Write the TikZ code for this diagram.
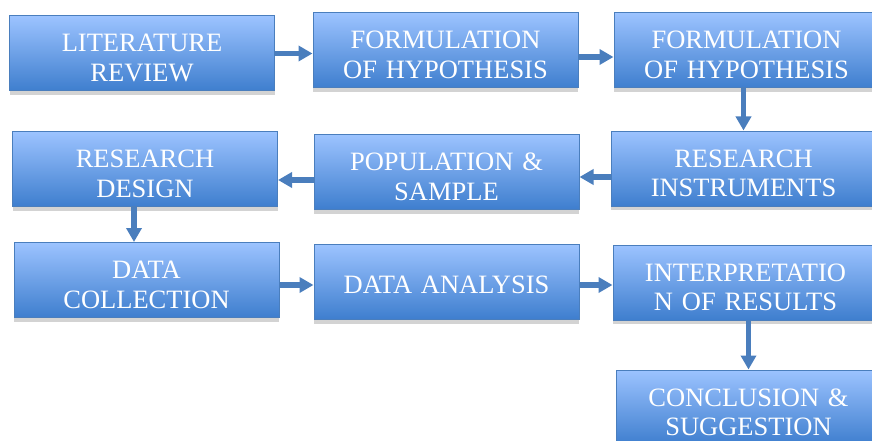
\documentclass[tikz,border=0pt]{standalone}
\usepackage{fontspec}
\setmainfont{Liberation Serif}
\usetikzlibrary{arrows.meta, shadows}
\definecolor{lightA}{RGB}{156, 195, 255}
\definecolor{darkA} {RGB}{62,  126, 206}
\definecolor{edgeA} {RGB}{74,  126, 189}

\begin{document}
\begin{tikzpicture}[x=1pt, y=-1pt,
  stepbox/.style={draw=edgeA, line width=1pt, top color=lightA, bottom color=darkA,
    minimum width=265pt, minimum height=75pt, inner sep=0pt, text=white,
    text width=255pt, align=center, font=\fontsize{26.5}{29.5}\selectfont,
    text height=18pt, text depth=21pt,
    drop shadow={shadow xshift=0pt, shadow yshift=-4pt, opacity=0.35}},
  oneline/.style={text height=22pt, text depth=0pt},
  flow/.style={draw=edgeA, line width=5.5pt, -{Triangle[width=15pt, length=14pt]}}]
  \clip (0,0) rectangle (872,441);

  \node[stepbox] (lit)    at (142,   53.5)  {LITERATURE\\REVIEW};
  \node[stepbox] (form)   at (445.5, 50.5)  {FORMULATION\\OF HYPOTHESIS};
  \node[stepbox] (hypo)   at (746.5, 50.5)  {FORMULATION\\OF HYPOTHESIS};

  \node[stepbox] (design) at (145,   169)   {RESEARCH\\DESIGN};
  \node[stepbox] (sample) at (446.5, 172)   {POPULATION \&\\SAMPLE};
  \node[stepbox] (instr)  at (743.5, 168.5) {RESEARCH\\INSTRUMENTS};

  \node[stepbox] (collect) at (146.5, 280)  {DATA\\COLLECTION};
  \node[stepbox, oneline] (analysis) at (446.5, 282) {DATA ANALYSIS};
  \node[stepbox] (interp)  at (745.5, 282.5) {INTERPRETATIO\\N OF RESULTS};

  \node[stepbox] (concl)   at (748.5, 407.5) {CONCLUSION \&\\SUGGESTION};

  \draw[flow] (lit.east) -- (lit.east -| form.west);
  \draw[flow] ([yshift=-6.5pt]form.east) -- ([yshift=-6.5pt]form.east -| hypo.west);
  \draw[flow] (hypo.south -| instr.north) -- (instr.north);
  \draw[flow] ([yshift=-8.5pt]instr.west) -- ([yshift=-8.5pt]instr.west -| sample.east);
  \draw[flow] ([yshift=-8pt]sample.west) -- ([yshift=-8pt]sample.west -| design.east);
  \draw[flow] ([xshift=-11pt]design.south) -- ([xshift=-11pt]design.south |- collect.north);
  \draw[flow] ([yshift=-5pt]collect.east) -- ([yshift=-5pt]collect.east -| analysis.west);
  \draw[flow] ([yshift=-3pt]analysis.east) -- ([yshift=-3pt]analysis.east -| interp.west);
  \draw[flow] ([xshift=3pt]interp.south) -- (concl.north);

\end{tikzpicture}
\end{document}
